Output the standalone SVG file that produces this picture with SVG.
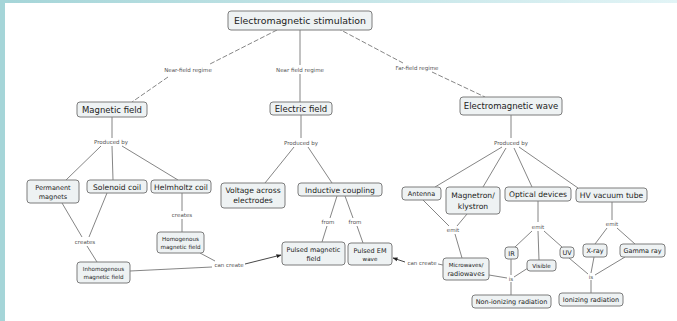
<svg xmlns="http://www.w3.org/2000/svg" width="677" height="321" viewBox="0 0 677 321">
<defs>
<linearGradient id="topg" x1="0" y1="0" x2="1" y2="0">
<stop offset="0" stop-color="#a5d5d8"/>
<stop offset="1" stop-color="#e2f4f6"/>
</linearGradient>
<marker id="arr" viewBox="0 0 10 10" refX="9" refY="5" markerWidth="5" markerHeight="5" orient="auto" markerUnits="userSpaceOnUse">
<path d="M0,1 L10,5 L0,9 Z" fill="#222"/>
</marker>
</defs>
<style>
.n rect{fill:#eef2f3;stroke:#7d7d7d;stroke-width:1}
.n text{font-family:"DejaVu Sans",sans-serif;fill:#222;text-anchor:middle}
.c line,.c path{stroke:#777;stroke-width:0.9;fill:none}
.c .d{stroke-dasharray:5 2}
.c .a{stroke:#333;marker-end:url(#arr)}
.l{font-family:"DejaVu Sans",sans-serif;font-size:5.5px;fill:#555;text-anchor:middle}
.t1{font-size:9.4px}
.t2{font-size:8.5px}
.t3{font-size:7.6px}
.t4{font-size:6.5px}
.t5{font-size:5.6px}
</style>
<rect x="0" y="0" width="677" height="321" fill="#ffffff"/>
<rect x="0" y="0" width="677" height="3" fill="url(#topg)"/>
<rect x="0" y="0" width="5" height="321" fill="#a5d5d8"/>

<g class="c" id="connectors">
<line class="d" x1="277" y1="30" x2="210" y2="64"/>
<line class="d" x1="168" y1="77" x2="132" y2="102"/>
<line x1="300" y1="30" x2="300" y2="65"/>
<line x1="300" y1="74" x2="300" y2="102"/>
<line class="d" x1="337" y1="28" x2="403" y2="63"/>
<line class="d" x1="432" y1="72" x2="485" y2="97"/>

<line x1="112" y1="117" x2="112" y2="138"/>
<line x1="101" y1="146" x2="66" y2="180"/>
<line x1="112" y1="146" x2="113" y2="180"/>
<line x1="122" y1="146" x2="178" y2="180"/>
<line x1="62" y1="203" x2="82" y2="237"/>
<line x1="107" y1="193" x2="89" y2="237"/>
<line x1="87" y1="246" x2="97" y2="262"/>
<line x1="182" y1="193" x2="182" y2="211"/>
<line x1="182" y1="219" x2="182" y2="232"/>
<line x1="130" y1="271" x2="212" y2="267"/>
<line x1="200" y1="253" x2="215" y2="261"/>
<line class="a" x1="245" y1="264" x2="281" y2="255"/>

<line x1="301" y1="115" x2="301" y2="138"/>
<line x1="294" y1="147" x2="265" y2="183"/>
<line x1="308" y1="147" x2="332" y2="183"/>
<line x1="337" y1="196" x2="330" y2="218"/>
<line x1="327" y1="226" x2="322" y2="242"/>
<line x1="345" y1="196" x2="353" y2="218"/>
<line x1="357" y1="226" x2="363" y2="243"/>

<line x1="511" y1="115" x2="511" y2="138"/>
<line x1="502" y1="147" x2="435" y2="187"/>
<line x1="506" y1="148" x2="483" y2="187"/>
<line x1="514" y1="148" x2="532" y2="187"/>
<line x1="519" y1="147" x2="578" y2="188"/>
<line x1="423" y1="200" x2="449" y2="226"/>
<line x1="467" y1="214" x2="457" y2="226"/>
<line x1="455" y1="234" x2="462" y2="258"/>
<line x1="443" y1="265" x2="438" y2="264"/>
<line class="a" x1="405" y1="262" x2="393" y2="258"/>

<line x1="538" y1="201" x2="538" y2="222"/>
<line x1="532" y1="231" x2="515" y2="247"/>
<line x1="538" y1="231" x2="539" y2="260"/>
<line x1="544" y1="231" x2="562" y2="247"/>
<line x1="489" y1="275" x2="507" y2="278"/>
<line x1="511" y1="259" x2="511" y2="275"/>
<line x1="528" y1="268" x2="514" y2="277"/>
<line x1="511" y1="282" x2="511" y2="295"/>

<line x1="612" y1="202" x2="612" y2="220"/>
<line x1="607" y1="228" x2="595" y2="244"/>
<line x1="617" y1="228" x2="635" y2="244"/>
<line x1="569" y1="258" x2="588" y2="274"/>
<line x1="594" y1="257" x2="591" y2="273"/>
<line x1="625" y1="257" x2="595" y2="275"/>
<line x1="591" y1="280" x2="591" y2="293"/>

<text class="l" x="188" y="72">Near-field regime</text>
<text class="l" x="300" y="72">Near field regime</text>
<text class="l" x="417" y="70">Far-field regime</text>
<text class="l" x="111" y="144">Produced by</text>
<text class="l" x="301" y="145">Produced by</text>
<text class="l" x="511" y="145">Produced by</text>
<text class="l" x="85" y="244">creates</text>
<text class="l" x="182" y="217">creates</text>
<text class="l" x="229" y="267">can create</text>
<text class="l" x="328" y="224">from</text>
<text class="l" x="355" y="224">from</text>
<text class="l" x="422" y="265">can create</text>
<text class="l" x="453" y="232">emit</text>
<text class="l" x="538" y="229">emit</text>
<text class="l" x="612" y="226">emit</text>
<text class="l" x="511" y="281">is</text>
<text class="l" x="591" y="279">is</text>
</g>

<g class="n" id="n-ems"><rect x="228" y="11" width="144" height="19" rx="3"/><text class="t1" x="300" y="24">Electromagnetic stimulation</text></g>
<g class="n" id="n-mf"><rect x="77" y="102" width="70" height="15" rx="3"/><text class="t2" x="112" y="112.5">Magnetic field</text></g>
<g class="n" id="n-ef"><rect x="270" y="102" width="62" height="13" rx="3"/><text class="t2" x="301" y="111.5">Electric field</text></g>
<g class="n" id="n-emw"><rect x="460" y="97" width="102" height="18" rx="3"/><text class="t2" x="511" y="109">Electromagnetic wave</text></g>

<g class="n" id="n-pm"><rect x="27" y="180" width="52" height="23" rx="3"/><text class="t4" x="53" y="190">Permanent</text><text class="t4" x="53" y="199">magnets</text></g>
<g class="n" id="n-sc"><rect x="87" y="180" width="60" height="13" rx="3"/><text class="t3" x="117" y="189.5">Solenoid coil</text></g>
<g class="n" id="n-hc"><rect x="151" y="180" width="60" height="13" rx="3"/><text class="t3" x="181" y="189.5">Helmholtz coil</text></g>
<g class="n" id="n-hmf"><rect x="157" y="232" width="47" height="21" rx="3"/><text class="t5" x="180.5" y="241">Homogenous</text><text class="t5" x="180.5" y="248.5">magnetic field</text></g>
<g class="n" id="n-imf"><rect x="77" y="262" width="53" height="21" rx="3"/><text class="t5" x="103.5" y="271">Inhomogenous</text><text class="t5" x="103.5" y="278.5">magnetic field</text></g>

<g class="n" id="n-vae"><rect x="221" y="183" width="64" height="25" rx="3"/><text class="t3" x="253" y="193">Voltage across</text><text class="t3" x="253" y="203">electrodes</text></g>
<g class="n" id="n-ic"><rect x="298" y="183" width="84" height="13" rx="3"/><text class="t3" x="340" y="192.5">Inductive coupling</text></g>
<g class="n" id="n-pmf"><rect x="282" y="242" width="63" height="23" rx="3"/><text class="t4" x="313.5" y="252">Pulsed magnetic</text><text class="t4" x="313.5" y="260.5">field</text></g>
<g class="n" id="n-pem"><rect x="348" y="243" width="44" height="22" rx="3"/><text class="t4" x="370" y="252.5">Pulsed EM</text><text class="t5" x="370" y="260.5">wave</text></g>

<g class="n" id="n-ant"><rect x="402" y="187" width="39" height="13" rx="3"/><text class="t4" x="421.5" y="196">Antenna</text></g>
<g class="n" id="n-mag"><rect x="446" y="187" width="54" height="27" rx="3"/><text class="t3" x="473" y="198">Magnetron/</text><text class="t3" x="473" y="208.5">klystron</text></g>
<g class="n" id="n-opt"><rect x="505" y="187" width="66" height="14" rx="3"/><text class="t3" x="538" y="196.5">Optical devices</text></g>
<g class="n" id="n-hv"><rect x="576" y="188" width="71" height="14" rx="3"/><text class="t3" x="611.5" y="197.5">HV vacuum tube</text></g>
<g class="n" id="n-mw"><rect x="443" y="258" width="46" height="22" rx="3"/><text class="t5" x="466" y="267">Microwaves/</text><text class="t4" x="466" y="276">radiowaves</text></g>
<g class="n" id="n-ir"><rect x="505" y="247" width="13" height="12" rx="3"/><text class="t4" x="511.5" y="255.5">IR</text></g>
<g class="n" id="n-vis"><rect x="527" y="260" width="29" height="11" rx="3"/><text class="t5" x="541.5" y="267.5">Visible</text></g>
<g class="n" id="n-uv"><rect x="560" y="247" width="14" height="11" rx="3"/><text class="t4" x="567" y="255">UV</text></g>
<g class="n" id="n-xr"><rect x="583" y="244" width="24" height="13" rx="3"/><text class="t4" x="595" y="252.5">X-ray</text></g>
<g class="n" id="n-gr"><rect x="620" y="244" width="45" height="13" rx="3"/><text class="t4" x="642.5" y="252.5">Gamma ray</text></g>
<g class="n" id="n-nir"><rect x="472" y="295" width="79" height="13" rx="3"/><text class="t4" x="511.5" y="304">Non-ionizing radiation</text></g>
<g class="n" id="n-ir2"><rect x="559" y="293" width="64" height="13" rx="3"/><text class="t4" x="591" y="302">Ionizing radiation</text></g>
</svg>
